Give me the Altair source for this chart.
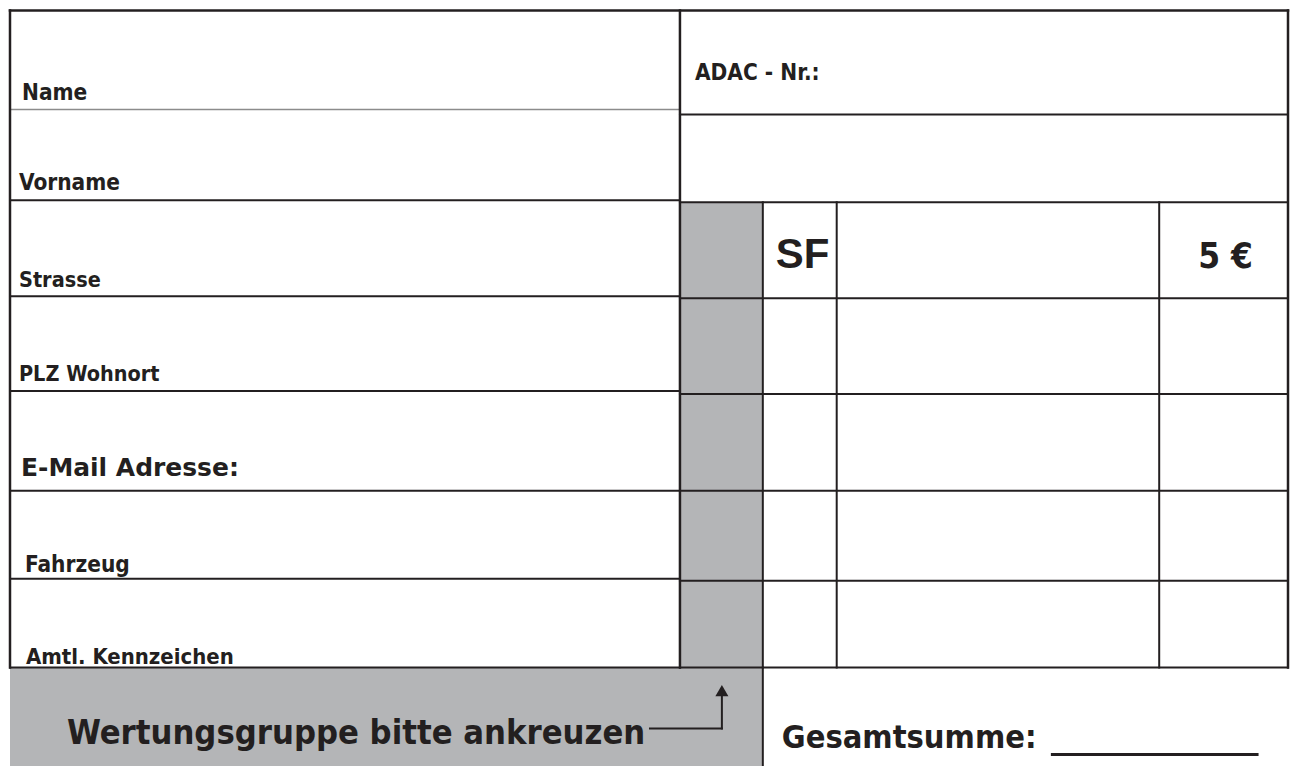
import altair as alt
import pandas as pd

INK = "#231f20"
GRAY = "#b4b5b7"
NARROW = "DejaVu Sans Condensed, Liberation Sans Narrow, Liberation Sans"

# ---- form layout (page pixel units) ----
left_labels = ["Name", "Vorname", "Strasse", "PLZ Wohnort", "E-Mail Adresse:", "Fahrzeug", "Amtl. Kennzeichen"]
left_label_x = [21, 18, 18, 18, 20, 24, 25]
left_label_base = [99, 189, 286, 380, 475, 571, 663]
left_label_size = [22.5, 22.5, 21.5, 21.5, 25, 22.5, 22]
left_row_edges = [9, 108, 199, 295, 390, 490, 578, 667]

grid_row_edges = [201, 297, 393, 490, 580, 667]
grid_col_edges = [680, 763, 837, 1160, 1289]
adac_box = [9, 113]

header_texts = ["ADAC - Nr.:", "SF", "5 €"]
bottom_texts = ["Wertungsgruppe bitte ankreuzen", "Gesamtsumme:"]

W, H = 1282, 758
X0, Y0 = 8, 8

# ---- build tables ----
rects = pd.DataFrame([
    dict(x=grid_col_edges[0], x2=grid_col_edges[1], y=grid_row_edges[0], y2=grid_row_edges[-1]),
    dict(x=9, x2=grid_col_edges[1], y=grid_row_edges[-1], y2=Y0 + H),
])

segs = []
def seg(x, x2, y, y2, w=2.0, c=INK):
    segs.append(dict(x=x, x2=x2, y=y, y2=y2, w=w, c=c))

left_x0, left_x1 = 9, grid_col_edges[0]
right_x1 = grid_col_edges[-1]
# top border
seg(left_x0, right_x1, 9, 9, 2.5)
# left column rows
for i, yy in enumerate(left_row_edges[1:]):
    if i == 0:
        seg(left_x0, left_x1, yy, yy, 1.5, "#8c8c8c")
    else:
        seg(left_x0, left_x1, yy, yy, 2.0)
# left border and main divider
seg(left_x0, left_x0, 9, 667, 2.5)
seg(left_x1, left_x1, 9, 667, 2.5)
# right border
seg(right_x1, right_x1, 9, 667, 2.5)
# ADAC box bottom
seg(left_x1, right_x1, adac_box[1], adac_box[1], 2.0)
# grid rows
for yy in grid_row_edges:
    seg(left_x1, right_x1, yy, yy, 2.0)
# grid columns
for xx in grid_col_edges[1:-1]:
    seg(xx, xx, grid_row_edges[0], grid_row_edges[-1], 2.0)
# bottom bar right edge
seg(grid_col_edges[1], grid_col_edges[1], grid_row_edges[-1], Y0 + H, 2.0)
# arrow
seg(650, 722, 728, 728, 2.0)
seg(722, 722, 728, 696, 2.0)
# Gesamtsumme underline
seg(1053, 1258, 754, 754, 3.0)
segs = pd.DataFrame(segs)

arrow_head = pd.DataFrame([dict(x=722, y=690)])

narrow_txt = []
for lab, xx, yy, sz in zip(left_labels, left_label_x, left_label_base, left_label_size):
    if lab != "E-Mail Adresse:":
        narrow_txt.append(dict(t=lab, x=xx, y=yy, s=sz))
narrow_txt.append(dict(t=header_texts[0], x=695, y=79, s=22.5))
narrow_txt.append(dict(t=header_texts[2], x=1199, y=267, s=35))
narrow_txt.append(dict(t=bottom_texts[0], x=66, y=744, s=34.3))
narrow_txt.append(dict(t=bottom_texts[1], x=782, y=748, s=32.4))
narrow_txt = pd.DataFrame(narrow_txt)

email_txt = pd.DataFrame([dict(t=left_labels[4], x=left_label_x[4], y=left_label_base[4], s=left_label_size[4])])
sf_txt = pd.DataFrame([dict(t=header_texts[1], x=776, y=267, s=42)])

xs = alt.Scale(domain=[X0, X0 + W], nice=False, zero=False)
ys = alt.Scale(domain=[Y0, Y0 + H], nice=False, zero=False, reverse=True)

def X(f="x"):
    return alt.X(f"{f}:Q", scale=xs, axis=None)

def Y(f="y"):
    return alt.Y(f"{f}:Q", scale=ys, axis=None)

rect_layer = alt.Chart(rects).mark_rect(color=GRAY).encode(
    x=X(), x2="x2:Q", y=Y(), y2="y2:Q"
)

rule_layer = alt.Chart(segs).mark_rule(strokeCap="square").encode(
    x=X(), x2="x2:Q", y=Y(), y2="y2:Q",
    strokeWidth=alt.StrokeWidth("w:Q", scale=None),
    color=alt.Color("c:N", scale=None),
)

head_layer = alt.Chart(arrow_head).mark_point(
    shape="triangle-up", filled=True, color=INK, size=170, opacity=1
).encode(x=X(), y=Y())

def text_layer(df, font):
    return alt.Chart(df).mark_text(
        font=font, fontWeight="bold", align="left", baseline="alphabetic", color=INK
    ).encode(
        x=X(), y=Y(), text="t:N", size=alt.Size("s:Q", scale=None)
    )

chart = alt.layer(
    rect_layer,
    rule_layer,
    head_layer,
    text_layer(narrow_txt, NARROW),
    text_layer(email_txt, "DejaVu Sans"),
    text_layer(sf_txt, "Liberation Sans"),
).properties(
    width=W, height=H, padding=0, background="white"
).configure_view(stroke=None)

chart.save("out.html", embed_options={"renderer": "svg", "actions": False})
